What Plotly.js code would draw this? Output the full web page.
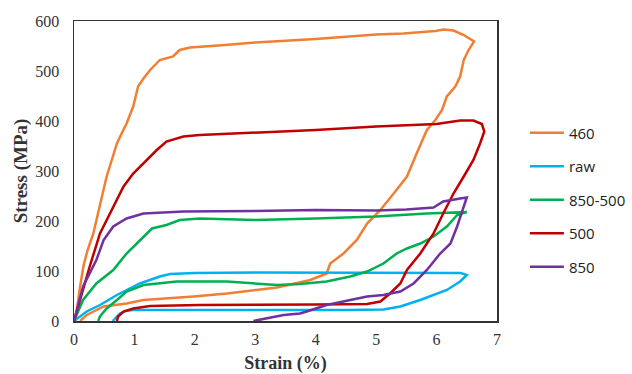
<!DOCTYPE html>
<html><head><meta charset="utf-8">
<script src="https://cdn.plot.ly/plotly-3.0.1.min.js"></script>
<style>html,body{margin:0;padding:0;background:#fff}#chart{width:632px;height:374px}</style>
</head><body><div id="chart"></div>
<script>
const seriesNames = ["460", "raw", "850-500", "500", "850"];
const seriesColors = ["#F07F33", "#00B0F0", "#00B050", "#C00000", "#7030A0"];

const strain460 = [0.02,0.05,0.1,0.155,0.22,0.32,0.43,0.54,0.62,0.71,0.8,0.87,0.98,1.06,1.15,1.26,1.42,1.64,1.75,1.92,2.5,3,4,5,5.45,5.98,6.12,6.28,6.45,6.62,6.53,6.45,6.39,6.31,6.17,6.09,5.98,5.84,5.67,5.51,5.29,5.07,4.85,4.68,4.46,4.24,4.18,3.91,3.36,2.53,1.98,1.53,1.15,0.87,0.49,0.21,0.1];
const stress460 = [0,30,68,109,140,175,229,289,320,355,378,395,429,469,485,502,522,529,542,547,552,557,564,573,575,580,583,581,572,559,542,522,489,469,449,422,402,382,335,289,255,222,195,162,135,115,95,82,67,55,49,45,42,35,29,12,0];

const strainRaw = [0,0.21,0.43,0.71,1.09,1.42,1.59,2,3,4,5,6,6.4,6.5,6.39,6.17,5.95,5.73,5.4,5.12,4.5,3,2,0.98,0.85,0.76,0.68,0.64];
const stressRaw = [0,19,32,52,75,89,94,96,97,97,96,96,96,92,79,62,52,42,29,23,22,22,22,22,20,15,5,0];

const strain850500 = [0,0.15,0.37,0.65,0.87,1.09,1.29,1.53,1.75,2.08,3,4,5,5.84,6.5,6.34,6.17,5.95,5.73,5.51,5.34,5.12,4.85,4.57,4.18,3.74,3.36,2.53,1.7,1.15,0.87,0.71,0.54,0.43,0.4];
const stress850500 = [0,42,75,102,135,162,185,192,202,205,202,205,209,215,218,212,189,169,155,145,135,115,99,89,79,74,72,79,79,72,59,42,25,9,0];

const strain500 = [0,0.1,0.26,0.43,0.65,0.82,0.98,1.2,1.37,1.53,1.81,2.08,3,4,5,5.5,6,6.39,6.61,6.75,6.79,6.72,6.61,6.45,6.28,6.11,5.95,5.73,5.51,5.4,5.23,5.07,4.85,4,2.08,1.26,0.98,0.82,0.73,0.71];
const stress500 = [0,42,109,175,229,269,295,322,342,359,369,372,377,382,389,391,394,401,401,394,379,355,322,289,255,215,175,135,102,75,55,39,34,33,32,30,25,19,9,0];

const strain850 = [0,0.15,0.37,0.49,0.65,0.87,1.15,1.81,3,4,5,5.5,5.95,6.11,6.39,6.5,6.45,6.34,6.23,6.06,5.84,5.62,5.4,5.12,4.85,4.57,4.18,3.85,3.74,3.47,3.19,2.97];
const stress850 = [0,69,122,162,189,205,215,219,220,222,221,223,227,239,245,247,229,189,155,135,102,75,59,52,49,42,32,19,15,12,5,0];

const strainTicks = [0,1,2,3,4,5,6,7];
const stressTicks = [0,100,200,300,400,500,600];

const xs = [strain460, strainRaw, strain850500, strain500, strain850];
const ys = [stress460, stressRaw, stress850500, stress500, stress850];

const traces = seriesNames.map((n, i) => ({
  x: xs[i], y: ys[i], name: n, type: "scatter", mode: "lines",
  legendgroup: "g" + i,
  line: {color: seriesColors[i], width: 2.5}
}));

const layout = {
  width: 632, height: 374,
  margin: {l: 74, r: 135, t: 21, b: 53, autoexpand: false},
  paper_bgcolor: "#fff", plot_bgcolor: "#fff",
  showlegend: true,
  legend: {x: 1.066, y: 0.403, xanchor: "left", yanchor: "middle",
           font: {family: "Open Sans, Liberation Sans, sans-serif", size: 15, color: "#222"},
           itemwidth: 34, tracegroupgap: 11, bgcolor: "rgba(0,0,0,0)"},
  xaxis: {range: [0, 7], tickvals: strainTicks, ticktext: strainTicks.map(String),
          showgrid: false, zeroline: false, showline: true, mirror: true,
          linecolor: "#333", linewidth: 1.5, ticks: "", ticklabelstandoff: 3,
          tickfont: {family: "Liberation Serif, serif", size: 16, color: "#333"},
          title: {text: "<b>Strain (%)</b>", font: {family: "Liberation Serif, serif", size: 18, color: "#333"}, standoff: 10}},
  yaxis: {range: [0, 600], tickvals: stressTicks, ticktext: stressTicks.map(String),
          showgrid: false, zeroline: false, showline: true, mirror: true,
          linecolor: "#333", linewidth: 1.5, ticks: "", ticklabelstandoff: 10,
          tickfont: {family: "Liberation Serif, serif", size: 16, color: "#333"},
          title: {text: "<b>Stress (MPa)</b>", font: {family: "Liberation Serif, serif", size: 19, color: "#333"}, standoff: 2}}
};

Plotly.newPlot("chart", traces, layout, {displayModeBar: false, staticPlot: true});
</script></body></html>
